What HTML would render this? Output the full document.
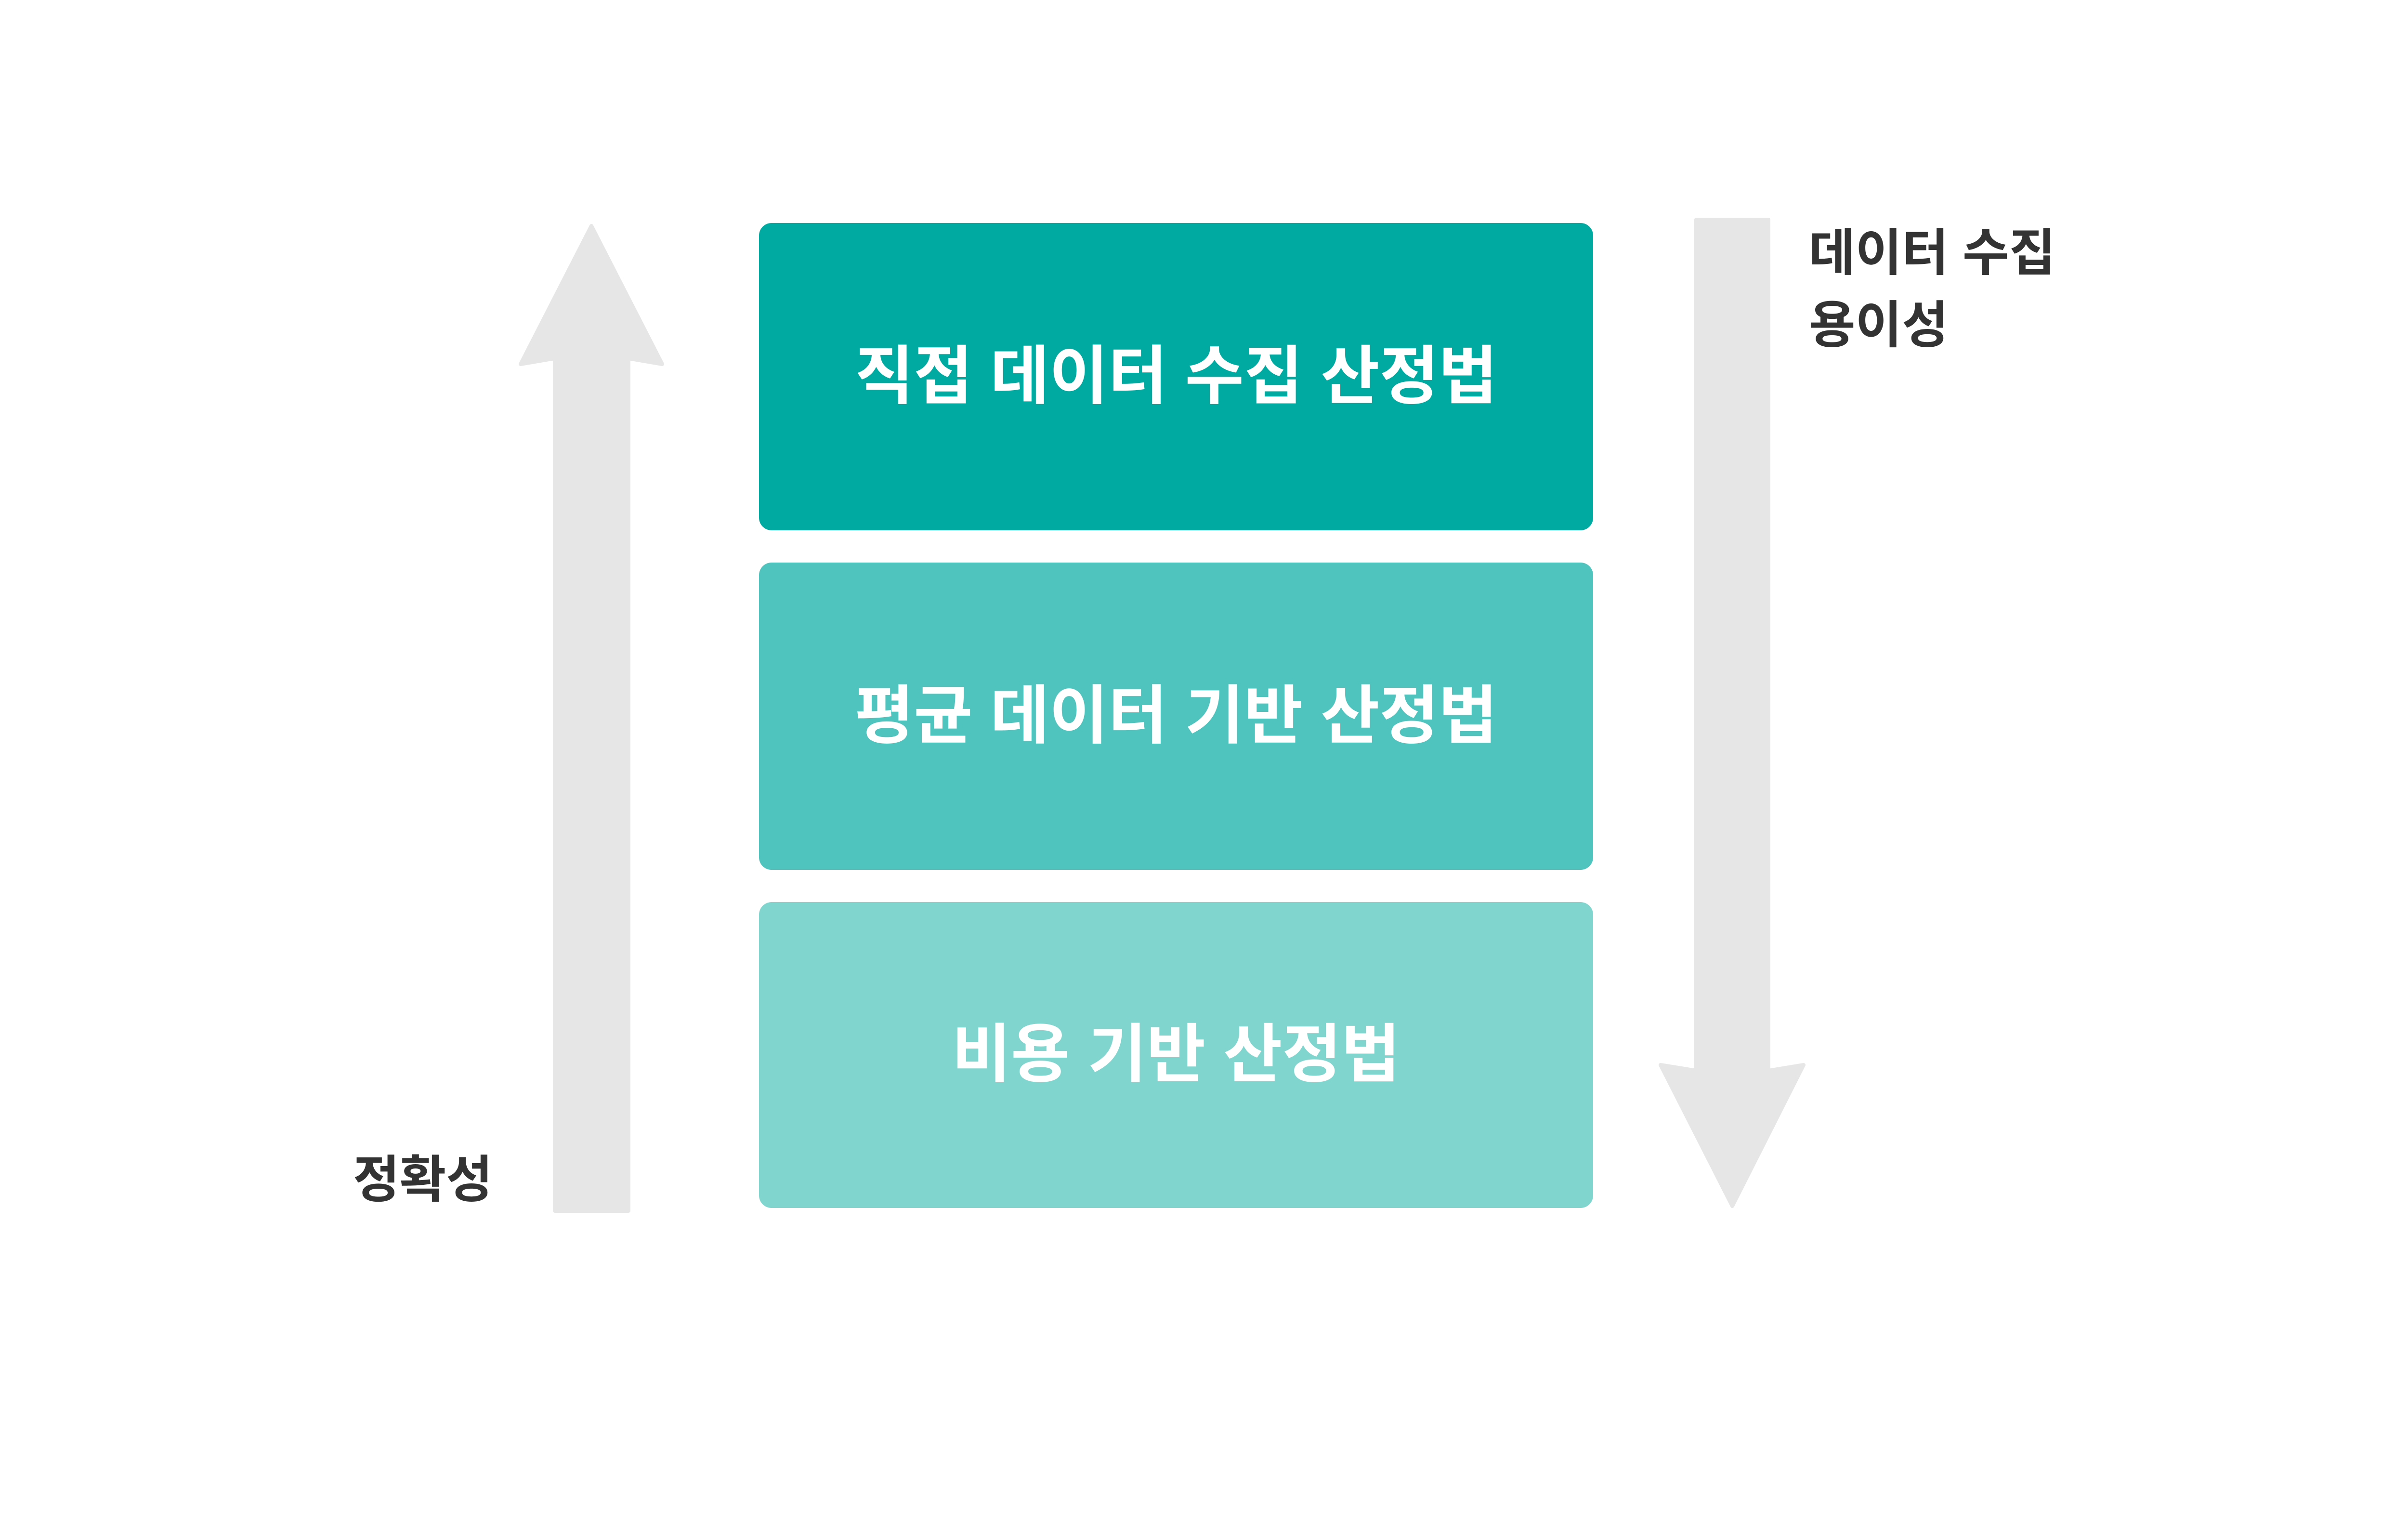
<!DOCTYPE html>
<html><head><meta charset="utf-8"><style>
html,body{margin:0;padding:0;background:#fff;overflow:hidden;width:5316px;height:3160px;}
svg{display:block;}
text{font-family:"Liberation Sans","Noto Sans CJK KR",sans-serif;font-weight:bold;}
</style></head><body>
<svg width="5316" height="3160" viewBox="0 0 5316 3160" xmlns="http://www.w3.org/2000/svg">
<rect width="5316" height="3160" fill="#fff"/>
<polygon points="1228,469 1375,756 1305,744 1305,2514 1152,2514 1152,744 1081,756" fill="#e6e6e6" stroke="#e6e6e6" stroke-width="8" stroke-linejoin="round"/>
<polygon points="3522,456 3672,456 3672,2223 3745,2211 3597,2504 3448,2211 3522,2223" fill="#e6e6e6" stroke="#e6e6e6" stroke-width="8" stroke-linejoin="round"/>
<rect x="1576" y="463" width="1732" height="638" rx="26" fill="#00aaa0"/>
<rect x="1576" y="1168" width="1732" height="638" rx="26" fill="#4fc3bd"/>
<rect x="1576" y="1873" width="1732" height="635" rx="26" fill="#80d6cf"/>
<text x="2442" y="782" font-size="133" fill="#fff" text-anchor="middle" dominant-baseline="central">직접 데이터 수집 산정법</text>
<text x="2442" y="1487" font-size="133" fill="#fff" text-anchor="middle" dominant-baseline="central">평균 데이터 기반 산정법</text>
<text x="2442" y="2190" font-size="133" fill="#fff" text-anchor="middle" dominant-baseline="central">비용 기반 산정법</text>
<text x="3756" y="526" font-size="105" fill="#333" dominant-baseline="central">데이터 수집</text>
<text x="3756" y="676" font-size="105" fill="#333" dominant-baseline="central">용이성</text>
<text x="733" y="2450" font-size="105" fill="#333" dominant-baseline="central">정확성</text>
</svg>
</body></html>
